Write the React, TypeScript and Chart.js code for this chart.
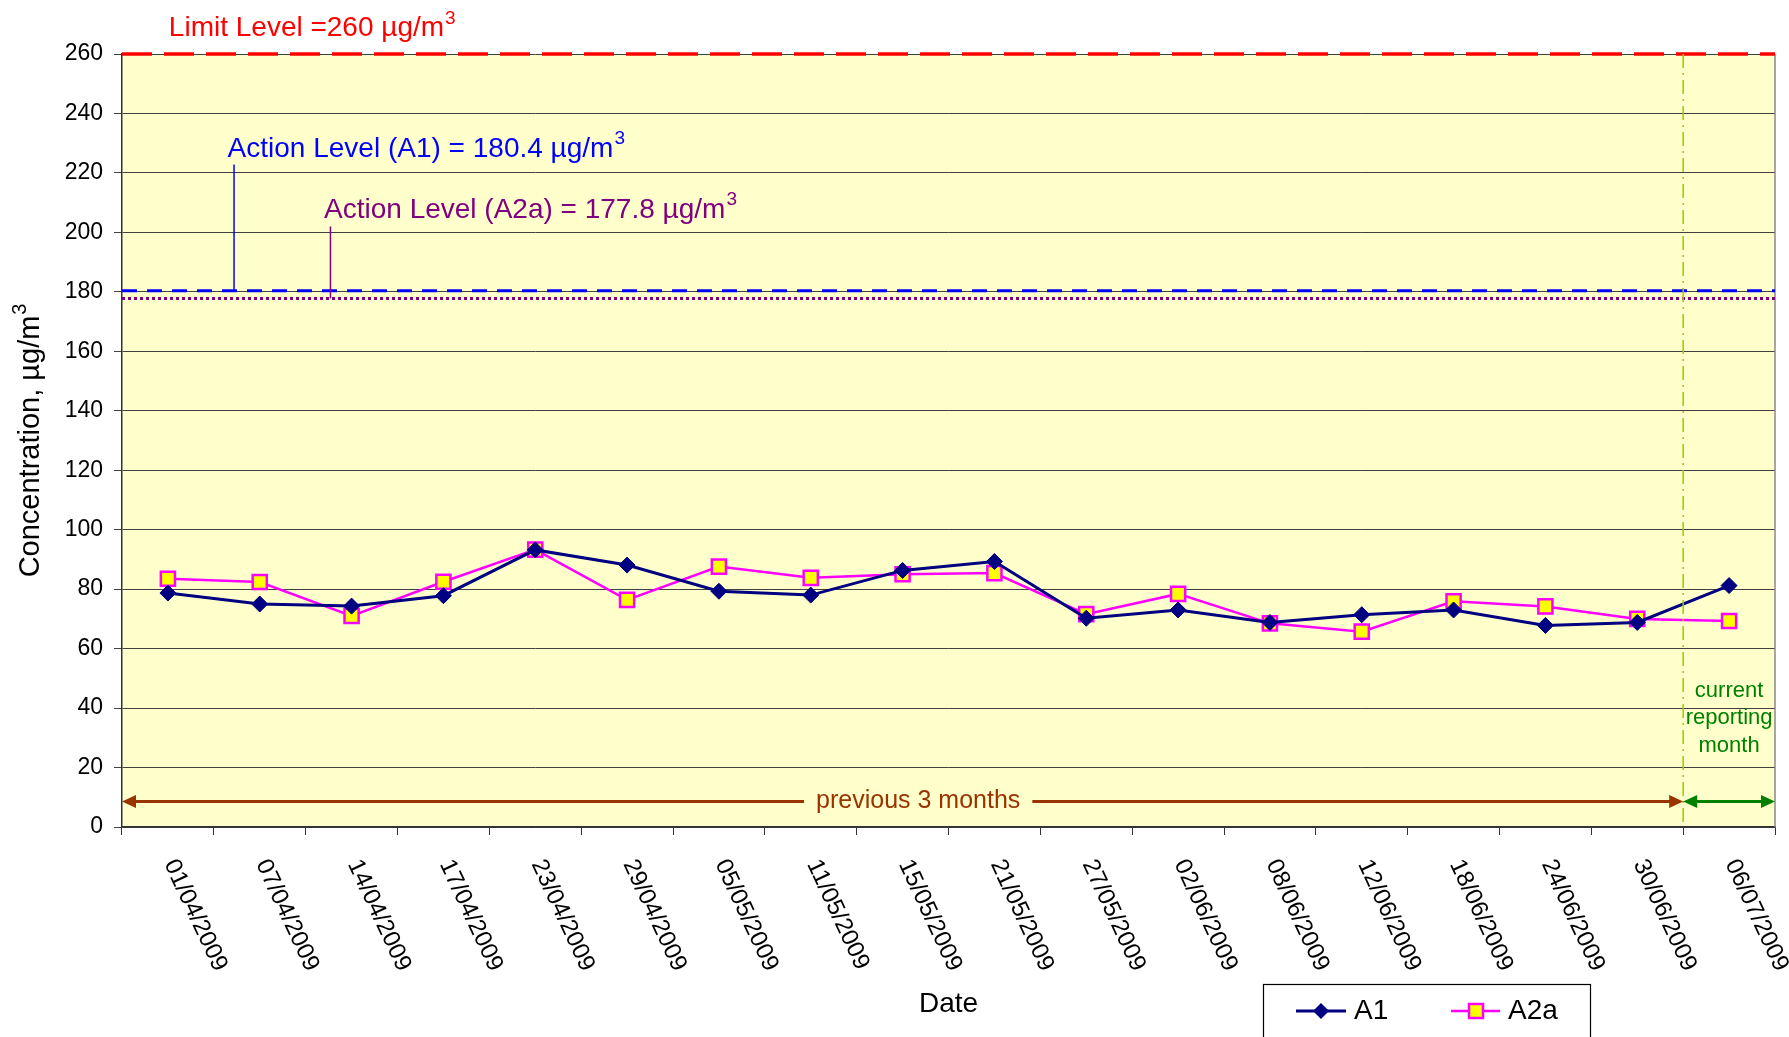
import React, { useEffect, useRef } from 'react';
import { Chart, registerables } from 'chart.js';

Chart.register(...registerables);

const categories = [
  '01/04/2009', '07/04/2009', '14/04/2009', '17/04/2009', '23/04/2009', '29/04/2009',
  '05/05/2009', '11/05/2009', '15/05/2009', '21/05/2009', '27/05/2009', '02/06/2009',
  '08/06/2009', '12/06/2009', '18/06/2009', '24/06/2009', '30/06/2009', '06/07/2009',
];
const seriesA1 = [78.7, 75.0, 74.3, 77.8, 93.2, 88.1, 79.3, 78.0, 86.3, 89.3, 70.2, 73.0, 68.8, 71.4, 73.0, 67.8, 68.8, 81.2];
const seriesA2a = [83.5, 82.4, 71.0, 82.5, 93.3, 76.4, 87.6, 83.8, 85.0, 85.4, 71.6, 78.4, 68.5, 65.7, 75.9, 74.2, 70.0, 69.3];
const yMin = 0;
const yMax = 260;
const yStep = 20;
const limitLevel = 260;
const actionA1 = 180.4;
const actionA2a = 177.8;
const limitLabel = 'Limit Level =260 µg/m';
const actionA1Label = 'Action Level (A1) = 180.4 µg/m';
const actionA2aLabel = 'Action Level (A2a) = 177.8 µg/m';
const supLabel = '3';
const previousLabel = 'previous 3 months';
const currentLabel = ['current', 'reporting', 'month'];
const yTitle = 'Concentration, µg/m';
const xTitle = 'Date';

const FONT = '"Liberation Sans", Arial, Helvetica, sans-serif';

function arrowHead(ctx: CanvasRenderingContext2D, tipX: number, y: number, dir: number, color: string) {
  ctx.fillStyle = color;
  ctx.beginPath();
  ctx.moveTo(tipX, y);
  ctx.lineTo(tipX - dir * 14, y - 6.5);
  ctx.lineTo(tipX - dir * 14, y + 6.5);
  ctx.closePath();
  ctx.fill();
}

// draws main text left-aligned (baseline middle) followed by a superscript
function textSup(ctx: CanvasRenderingContext2D, main: string, sup: string, x: number, y: number, size: number) {
  ctx.textAlign = 'left';
  ctx.textBaseline = 'middle';
  ctx.font = `${size}px ${FONT}`;
  ctx.fillText(main, x, y);
  const w = ctx.measureText(main).width;
  ctx.font = `${Math.round(size * 0.68)}px ${FONT}`;
  ctx.fillText(sup, x + w + 1, y - size * 0.36);
  ctx.font = `${size}px ${FONT}`;
}

export default function App() {
  const ref = useRef<HTMLCanvasElement>(null);
  useEffect(() => {
    if (!ref.current) return;
    const custom = {
      id: 'custom',
      beforeDraw(chart: any) {
        const { ctx, chartArea: ca } = chart;
        ctx.save();
        ctx.fillStyle = '#FFFFCC';
        ctx.fillRect(ca.left, ca.top, ca.right - ca.left, ca.bottom - ca.top);
        ctx.restore();
      },
      afterDraw(chart: any) {
        const { ctx, chartArea: ca } = chart;
        const xs = chart.scales.x;
        const ys = chart.scales.y;
        ctx.save();

        // right border
        ctx.strokeStyle = '#888';
        ctx.lineWidth = 1.5;
        ctx.beginPath();
        ctx.moveTo(ca.right, ca.top);
        ctx.lineTo(ca.right, ca.bottom);
        ctx.stroke();

        const hline = (v: number, color: string, w: number, dash: number[]) => {
          const py = ys.getPixelForValue(v);
          ctx.strokeStyle = color;
          ctx.lineWidth = w;
          ctx.setLineDash(dash);
          ctx.beginPath();
          ctx.moveTo(ca.left, py);
          ctx.lineTo(ca.right, py);
          ctx.stroke();
          ctx.setLineDash([]);
        };
        hline(limitLevel, '#FF0000', 3.5, [30, 12]);
        hline(actionA1, '#0000FF', 3, [15, 10]);
        hline(actionA2a, '#800080', 3, [3, 3]);

        // leader lines
        const leader = (xv: number, y1: number, y2: number, color: string) => {
          const px = xs.getPixelForValue(xv);
          ctx.strokeStyle = color;
          ctx.lineWidth = 1.5;
          ctx.beginPath();
          ctx.moveTo(px, ys.getPixelForValue(y1));
          ctx.lineTo(px, ys.getPixelForValue(y2));
          ctx.stroke();
        };
        leader(0.72, 222.8, actionA1, '#0000FF');
        leader(1.77, 202, actionA2a, '#800080');

        ctx.fillStyle = '#FF0000';
        textSup(ctx, limitLabel, supLabel, xs.getPixelForValue(0.01), ys.getPixelForValue(268.5), 28);
        ctx.fillStyle = '#0000FF';
        textSup(ctx, actionA1Label, supLabel, xs.getPixelForValue(0.65), ys.getPixelForValue(228.0), 28);
        ctx.fillStyle = '#800080';
        textSup(ctx, actionA2aLabel, supLabel, xs.getPixelForValue(1.70), ys.getPixelForValue(207.5), 28);

        // current month separator
        const sepX = xs.getPixelForValue(categories.length - 1.5);
        ctx.strokeStyle = '#99CC00';
        ctx.lineWidth = 1.5;
        ctx.setLineDash([14, 5, 2, 5]);
        ctx.beginPath();
        ctx.moveTo(sepX, ca.top);
        ctx.lineTo(sepX, ca.bottom);
        ctx.stroke();
        ctx.setLineDash([]);

        // previous 3 months arrow
        const ay = ys.getPixelForValue(8.6);
        const brown = '#993300';
        const textCx = xs.getPixelForValue(8.17);
        ctx.font = `25px ${FONT}`;
        ctx.textBaseline = 'middle';
        const tw = ctx.measureText(previousLabel).width;
        ctx.strokeStyle = brown;
        ctx.lineWidth = 3;
        ctx.beginPath();
        ctx.moveTo(ca.left + 10, ay);
        ctx.lineTo(textCx - tw / 2 - 12, ay);
        ctx.moveTo(textCx + tw / 2 + 12, ay);
        ctx.lineTo(sepX - 10, ay);
        ctx.stroke();
        arrowHead(ctx, ca.left, ay, -1, brown);
        arrowHead(ctx, sepX, ay, 1, brown);
        ctx.fillStyle = brown;
        ctx.textAlign = 'center';
        ctx.fillText(previousLabel, textCx, ay);

        // current arrow
        const green = '#008000';
        ctx.strokeStyle = green;
        ctx.beginPath();
        ctx.moveTo(sepX + 10, ay);
        ctx.lineTo(ca.right - 10, ay);
        ctx.stroke();
        arrowHead(ctx, sepX, ay, -1, green);
        arrowHead(ctx, ca.right, ay, 1, green);
        ctx.fillStyle = green;
        ctx.font = `22px ${FONT}`;
        const cx = xs.getPixelForValue(categories.length - 1);
        const lineVals = [45.8, 36.6, 27.3];
        currentLabel.forEach((t, i) => ctx.fillText(t, cx, ys.getPixelForValue(lineVals[i])));

        // x tick labels rotated
        ctx.fillStyle = '#000';
        ctx.font = `24px ${FONT}`;
        ctx.textAlign = 'left';
        ctx.textBaseline = 'middle';
        categories.forEach((lab, i) => {
          const px = xs.getPixelForValue(i);
          ctx.save();
          ctx.translate(px + 2, ca.bottom + 34);
          ctx.rotate((65 * Math.PI) / 180);
          ctx.fillText(lab, 0, 0);
          ctx.restore();
        });

        // axis titles
        ctx.font = `28px ${FONT}`;
        ctx.textAlign = 'center';
        ctx.fillText(xTitle, (ca.left + ca.right) / 2, 1004);
        ctx.save();
        ctx.translate(31, (ca.top + ca.bottom) / 2);
        ctx.rotate(-Math.PI / 2);
        ctx.font = `29px ${FONT}`;
        const yw = ctx.measureText(yTitle).width + 12;
        textSup(ctx, yTitle, supLabel, -yw / 2, 0, 29);
        ctx.restore();

        // legend
        ctx.fillStyle = '#fff';
        ctx.fillRect(1263, 984, 327, 60);
        ctx.strokeStyle = '#000';
        ctx.lineWidth = 1.2;
        ctx.strokeRect(1263.5, 984.5, 327, 60);
        const ly = 1011;
        ctx.strokeStyle = '#000080';
        ctx.lineWidth = 3;
        ctx.beginPath();
        ctx.moveTo(1296, ly);
        ctx.lineTo(1346, ly);
        ctx.stroke();
        ctx.fillStyle = '#000080';
        ctx.beginPath();
        ctx.moveTo(1321 - 8, ly);
        ctx.lineTo(1321, ly - 8);
        ctx.lineTo(1321 + 8, ly);
        ctx.lineTo(1321, ly + 8);
        ctx.closePath();
        ctx.fill();
        ctx.strokeStyle = '#FF00FF';
        ctx.lineWidth = 2.5;
        ctx.beginPath();
        ctx.moveTo(1451, ly);
        ctx.lineTo(1500, ly);
        ctx.stroke();
        ctx.fillStyle = '#FFFF00';
        ctx.fillRect(1469, ly - 7, 14, 14);
        ctx.strokeRect(1469, ly - 7, 14, 14);
        ctx.fillStyle = '#000';
        ctx.textAlign = 'left';
        ctx.font = `28px ${FONT}`;
        ctx.fillText('A1', 1354, ly);
        ctx.fillText('A2a', 1508, ly);

        ctx.restore();
      },
    };

    const chart = new Chart(ref.current, {
      type: 'line',
      data: {
        labels: categories,
        datasets: [
          {
            label: 'A1',
            data: seriesA1,
            borderColor: '#000080',
            backgroundColor: '#000080',
            borderWidth: 3,
            pointStyle: 'rectRot',
            pointRadius: 8,
            pointBorderWidth: 1,
            pointBackgroundColor: '#000080',
            pointBorderColor: '#000080',
            tension: 0,
          },
          {
            label: 'A2a',
            data: seriesA2a,
            borderColor: '#FF00FF',
            backgroundColor: '#FFFF00',
            borderWidth: 2.5,
            pointStyle: 'rect',
            pointRadius: 10,
            pointBorderWidth: 2.5,
            pointBackgroundColor: '#FFFF00',
            pointBorderColor: '#FF00FF',
            tension: 0,
          },
        ],
      },
      options: {
        animation: false,
        responsive: true,
        maintainAspectRatio: false,
        layout: { padding: { left: 0, right: 14, top: 54, bottom: 0 } },
        plugins: { legend: { display: false }, tooltip: { enabled: false } },
        scales: {
          x: {
            type: 'category',
            offset: true,
            grid: { offset: true, drawOnChartArea: false, drawTicks: true, tickLength: 8, color: '#333', lineWidth: 1 },
            border: { display: true, color: '#333', width: 1.5 },
            ticks: { display: false },
            afterFit: (s: any) => { s.height = 210; },
          },
          y: {
            min: yMin,
            max: yMax,
            ticks: { stepSize: yStep, font: { family: FONT, size: 23 }, color: '#000', padding: 11 },
            grid: { color: '#404040', lineWidth: 1, tickLength: 8, drawTicks: true },
            border: { display: true, color: '#333', width: 1.5 },
            afterFit: (s: any) => { s.width = 122; },
          },
        },
      },
      plugins: [custom],
    } as any);
    return () => chart.destroy();
  }, []);

  return (
    <div style={{ position: 'fixed', left: 0, top: 0, width: 1789, height: 1037, background: '#fff' }}>
      <canvas ref={ref} />
    </div>
  );
}
